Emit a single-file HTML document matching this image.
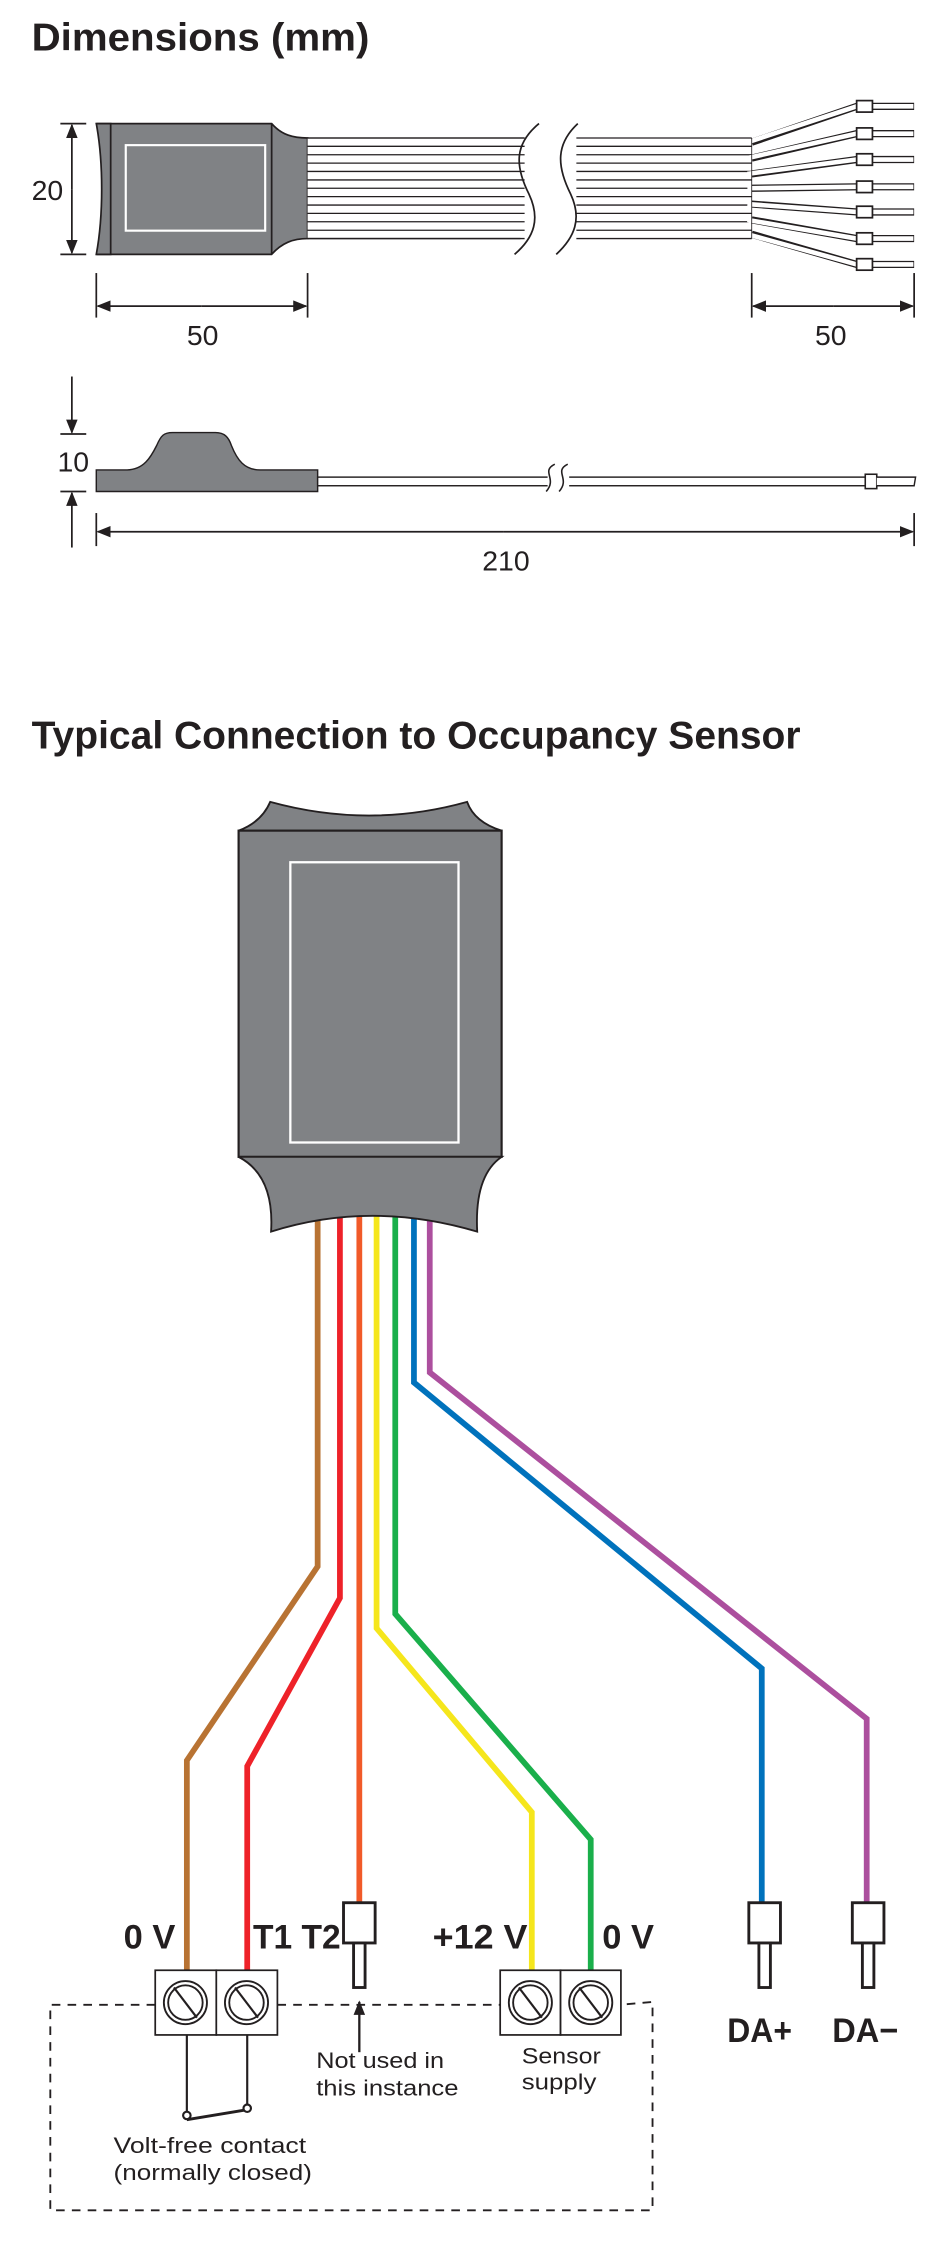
<!DOCTYPE html>
<html><head><meta charset="utf-8"><style>
html,body{margin:0;padding:0;background:#fff;}
svg{display:block;}
text{font-family:"Liberation Sans",sans-serif;fill:#231f20;}
</style></head><body>
<svg width="940" height="2262" viewBox="0 0 654 1574" preserveAspectRatio="none" xmlns="http://www.w3.org/2000/svg">
<defs>
<marker id="ah" markerWidth="10" markerHeight="8" refX="9" refY="4" orient="auto" markerUnits="userSpaceOnUse"><path d="M0,0 L10,4 L0,8 z" fill="#231f20"/></marker>
</defs>
<text x="22" y="35" font-size="27" font-weight="bold" textLength="235" lengthAdjust="spacingAndGlyphs">Dimensions (mm)</text>

<path d="M67,86 L189,86 C196,94 204,96 214,96 L214,166 C204,166 196,169 189,177 L67,177 C72,150 72,113 67,86 Z" fill="#808285" stroke="#231f20" stroke-width="1.2"/>
<path d="M67,86 L77,86 L77,177 L67,177" fill="none" stroke="#231f20" stroke-width="1.2"/>
<line x1="189" y1="86" x2="189" y2="177" stroke="#231f20" stroke-width="1.2"/>
<rect x="87.5" y="101" width="97" height="59.5" fill="none" stroke="#fff" stroke-width="1.5"/>
<rect x="214" y="96" width="157" height="70" fill="#fff"/>
<g stroke="#231f20" stroke-width="0.9">
<line x1="214" y1="96" x2="371" y2="96"/><line x1="214" y1="101.8" x2="371" y2="101.8"/><line x1="214" y1="107.7" x2="371" y2="107.7"/><line x1="214" y1="113.5" x2="371" y2="113.5"/><line x1="214" y1="119.3" x2="371" y2="119.3"/><line x1="214" y1="125.2" x2="371" y2="125.2"/><line x1="214" y1="131" x2="371" y2="131"/><line x1="214" y1="136.8" x2="371" y2="136.8"/><line x1="214" y1="142.7" x2="371" y2="142.7"/><line x1="214" y1="148.5" x2="371" y2="148.5"/><line x1="214" y1="154.3" x2="371" y2="154.3"/><line x1="214" y1="160.2" x2="371" y2="160.2"/><line x1="214" y1="166" x2="371" y2="166"/>
<line x1="398" y1="96" x2="523" y2="96"/><line x1="398" y1="101.8" x2="523" y2="101.8"/><line x1="398" y1="107.7" x2="523" y2="107.7"/><line x1="398" y1="113.5" x2="523" y2="113.5"/><line x1="398" y1="119.3" x2="523" y2="119.3"/><line x1="398" y1="125.2" x2="523" y2="125.2"/><line x1="398" y1="131" x2="523" y2="131"/><line x1="398" y1="136.8" x2="523" y2="136.8"/><line x1="398" y1="142.7" x2="523" y2="142.7"/><line x1="398" y1="148.5" x2="523" y2="148.5"/><line x1="398" y1="154.3" x2="523" y2="154.3"/><line x1="398" y1="160.2" x2="523" y2="160.2"/><line x1="398" y1="166" x2="523" y2="166"/>
</g>
<rect x="365" y="86" width="36" height="92" fill="#fff"/>
<path d="M375,86 C358,100 358,115 368,135 C376,152 372,165 358,177" fill="none" stroke="#231f20" stroke-width="1.2"/>
<path d="M214,96 H365 M214,166 H362" stroke="#231f20" stroke-width="0.9"/>
<path d="M402,86 C387,100 387,115 397,135 C405,152 400,165 387,177" fill="none" stroke="#231f20" stroke-width="1.2"/>
<g fill="none" stroke-linejoin="round">
<g stroke="#231f20" stroke-width="5">
<polyline points="523,99 596,74 636,74"/><polyline points="523,110 596,93 636,93"/><polyline points="523,121 596,111 636,111"/><polyline points="523,131 596,130 636,130"/><polyline points="523,142 596,147.5 636,147.5"/><polyline points="523,153 596,166 636,166"/><polyline points="523,163 596,184 636,184"/>
</g>
<g stroke="#fff" stroke-width="3.2">
<polyline points="520,99 596,74 635.5,74"/><polyline points="520,110 596,93 635.5,93"/><polyline points="520,121 596,111 635.5,111"/><polyline points="520,131 596,130 635.5,130"/><polyline points="520,142 596,147.5 635.5,147.5"/><polyline points="520,153 596,166 635.5,166"/><polyline points="520,163 596,184 635.5,184"/>
</g>
</g>
<line x1="523" y1="96" x2="523" y2="166" stroke="#231f20" stroke-width="0.6"/>
<g fill="#fff" stroke="#231f20" stroke-width="1.2">
<rect x="596" y="70" width="11" height="8"/><rect x="596" y="89" width="11" height="8"/><rect x="596" y="107" width="11" height="8"/><rect x="596" y="126" width="11" height="8"/><rect x="596" y="143.5" width="11" height="8"/><rect x="596" y="162" width="11" height="8"/><rect x="596" y="180" width="11" height="8"/>
</g>
<g stroke="#231f20" stroke-width="1.2" fill="none">
<line x1="42" y1="86" x2="60" y2="86"/><line x1="42" y1="177" x2="60" y2="177"/>
<line x1="50" y1="132" x2="50" y2="87" marker-end="url(#ah)"/><line x1="50" y1="132" x2="50" y2="176" marker-end="url(#ah)"/>
<line x1="67" y1="190" x2="67" y2="221"/><line x1="214" y1="190" x2="214" y2="221"/>
<line x1="140" y1="213" x2="68" y2="213" marker-end="url(#ah)"/><line x1="140" y1="213" x2="213" y2="213" marker-end="url(#ah)"/>
<line x1="523" y1="190" x2="523" y2="221"/><line x1="636" y1="190" x2="636" y2="221"/>
<line x1="580" y1="213" x2="524" y2="213" marker-end="url(#ah)"/><line x1="580" y1="213" x2="635" y2="213" marker-end="url(#ah)"/>
</g>
<text x="33" y="139" font-size="19" text-anchor="middle" textLength="22" lengthAdjust="spacingAndGlyphs">20</text>
<text x="141" y="240" font-size="19" text-anchor="middle" textLength="22" lengthAdjust="spacingAndGlyphs">50</text>
<text x="578" y="240" font-size="19" text-anchor="middle" textLength="22" lengthAdjust="spacingAndGlyphs">50</text>

<path d="M67,327 L88,327 C100,327 105,318 109,310 C112,303 114,301 120,301 L150,301 C156,301 159,304 161,310 C165,320 170,327 181,327 L221,327 L221,342 L67,342 Z" fill="#808285" stroke="#231f20" stroke-width="1"/>
<rect x="221" y="332" width="381" height="6" fill="#fff" stroke="#231f20" stroke-width="1"/>
<rect x="381" y="326" width="15" height="18" fill="#fff"/>
<path d="M386,323 C376,328 388,333 380,342 M395,323 C385,328 397,333 389,342" fill="none" stroke="#231f20" stroke-width="1.1"/>
<rect x="602" y="330" width="8" height="10" fill="#fff" stroke="#231f20" stroke-width="1.1"/>
<path d="M610,332 L637,332 L636,338 L610,338" fill="#fff" stroke="#231f20" stroke-width="1"/>
<g stroke="#231f20" stroke-width="1.2" fill="none">
<line x1="42" y1="302" x2="60" y2="302"/><line x1="42" y1="342" x2="60" y2="342"/>
<line x1="50" y1="262" x2="50" y2="301" marker-end="url(#ah)"/>
<line x1="50" y1="381" x2="50" y2="343" marker-end="url(#ah)"/>
<line x1="67" y1="357" x2="67" y2="380"/><line x1="636" y1="357" x2="636" y2="380"/>
<line x1="350" y1="370" x2="68" y2="370" marker-end="url(#ah)"/><line x1="350" y1="370" x2="635" y2="370" marker-end="url(#ah)"/>
</g>
<text x="51" y="328" font-size="19" text-anchor="middle" textLength="22" lengthAdjust="spacingAndGlyphs">10</text>
<text x="352" y="397" font-size="19" text-anchor="middle" textLength="33" lengthAdjust="spacingAndGlyphs">210</text>

<text x="22" y="521" font-size="27" font-weight="bold" textLength="535" lengthAdjust="spacingAndGlyphs">Typical Connection to Occupancy Sensor</text>

<g fill="none" stroke-width="4" stroke-linejoin="miter">
<polyline stroke="#b87333" points="221,845 221,1090 130,1225 130,1372"/>
<polyline stroke="#ee2229" points="236.5,845 236.5,1112 172,1229 172,1372"/>
<polyline stroke="#f15a29" points="250,845 250,1324"/>
<polyline stroke="#f5e61c" points="262,845 262,1133 370,1261 370,1372"/>
<polyline stroke="#1aaf4b" points="275,845 275,1123 411,1280 411,1372"/>
<polyline stroke="#0072bc" points="288,845 288,962 530,1161 530,1324"/>
<polyline stroke="#ac4f9e" points="299,845 299,955 603,1196 603,1324"/>
</g>

<path d="M188,558 Q257,577 325,558 Q330,572 349,578 L166,578 Q182,572 188,558 Z" fill="#808285" stroke="#231f20" stroke-width="1.3"/>
<rect x="166" y="578" width="183" height="227" fill="#808285" stroke="#231f20" stroke-width="1.5"/>
<path d="M166,805 L349,805 Q330,818 332,857 Q258,835 188.6,857 Q191,818 166,805 Z" fill="#808285" stroke="#231f20" stroke-width="1.3"/>
<rect x="202" y="600" width="117" height="195" fill="none" stroke="#fff" stroke-width="1.6"/>

<g stroke="#231f20" stroke-width="1.2" fill="#fff">
<rect x="108" y="1371" width="42.5" height="45"/><rect x="150.5" y="1371" width="42.5" height="45"/>
<rect x="348" y="1371" width="42" height="45"/><rect x="390" y="1371" width="42" height="45"/>
</g>
<g stroke="#231f20" fill="none">
<circle cx="129" cy="1393.5" r="15" stroke-width="1.3"/><circle cx="129" cy="1393.5" r="12" stroke-width="1.3"/><line x1="121" y1="1383" x2="137" y2="1404" stroke-width="1.5"/>
<circle cx="171.5" cy="1393.5" r="15" stroke-width="1.3"/><circle cx="171.5" cy="1393.5" r="12" stroke-width="1.3"/><line x1="163.5" y1="1383" x2="179.5" y2="1404" stroke-width="1.5"/>
<circle cx="369" cy="1393.5" r="15" stroke-width="1.3"/><circle cx="369" cy="1393.5" r="12" stroke-width="1.3"/><line x1="361" y1="1383" x2="377" y2="1404" stroke-width="1.5"/>
<circle cx="411" cy="1393.5" r="15" stroke-width="1.3"/><circle cx="411" cy="1393.5" r="12" stroke-width="1.3"/><line x1="403" y1="1383" x2="419" y2="1404" stroke-width="1.5"/>
</g>
<g stroke="#231f20" stroke-width="2" fill="#fff">
<rect x="239" y="1324" width="22" height="28"/><rect x="246" y="1352" width="8" height="31"/>
<rect x="521" y="1324" width="22" height="28"/><rect x="528" y="1352" width="8" height="31"/>
<rect x="593" y="1324" width="22" height="28"/><rect x="600" y="1352" width="8" height="31"/>
</g>
<g stroke="#231f20" stroke-width="1.3" stroke-dasharray="6,5" fill="none">
<polyline points="108,1395 35,1395 35,1538 454,1538 454,1393 432,1395"/>
<line x1="193" y1="1395" x2="348" y2="1395"/>
</g>
<line x1="250" y1="1428" x2="250" y2="1393" stroke="#231f20" stroke-width="1.6" marker-end="url(#ah)"/>
<g stroke="#231f20" stroke-width="1.5" fill="#fff">
<line x1="130" y1="1416" x2="130" y2="1470"/><line x1="172" y1="1416" x2="172" y2="1466"/>
<line x1="130" y1="1475" x2="172" y2="1468" stroke-width="2"/>
<circle cx="130" cy="1472" r="2.6"/><circle cx="172" cy="1467" r="2.6"/>
</g>
<g font-weight="bold" font-size="24">
<text x="86" y="1356" textLength="36" lengthAdjust="spacingAndGlyphs">0 V</text>
<text x="176" y="1356" textLength="61" lengthAdjust="spacingAndGlyphs">T1 T2</text>
<text x="301" y="1356" textLength="66" lengthAdjust="spacingAndGlyphs">+12 V</text>
<text x="419" y="1356" textLength="36" lengthAdjust="spacingAndGlyphs">0 V</text>
<text x="506" y="1421" textLength="45" lengthAdjust="spacingAndGlyphs">DA+</text>
<text x="579" y="1421" textLength="46" lengthAdjust="spacingAndGlyphs">DA−</text>
</g>
<g font-size="15.5">
<text x="220" y="1439" textLength="89" lengthAdjust="spacingAndGlyphs">Not used in</text>
<text x="220" y="1458" textLength="99" lengthAdjust="spacingAndGlyphs">this instance</text>
<text x="363" y="1436" textLength="55" lengthAdjust="spacingAndGlyphs">Sensor</text>
<text x="363" y="1454" textLength="52" lengthAdjust="spacingAndGlyphs">supply</text>
<text x="79" y="1498" textLength="134" lengthAdjust="spacingAndGlyphs">Volt-free contact</text>
<text x="79" y="1517" textLength="138" lengthAdjust="spacingAndGlyphs">(normally closed)</text>
</g>
</svg>
</body></html>
